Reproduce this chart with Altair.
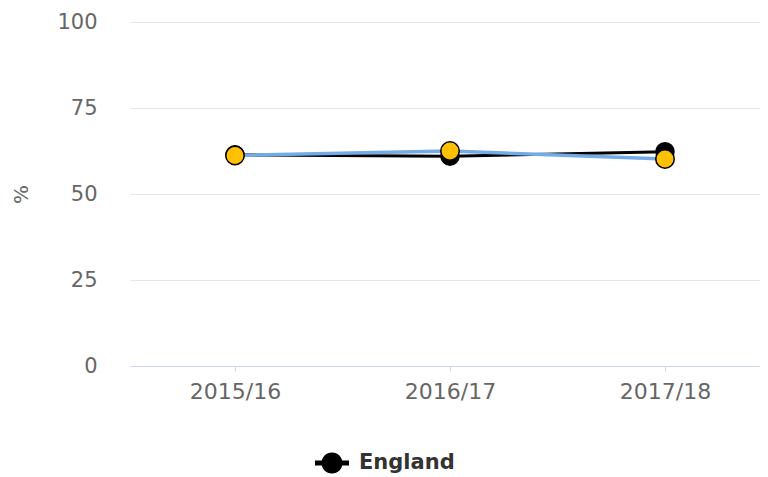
import altair as alt
import pandas as pd

# ---- data ----
years = ["2015/16", "2016/17", "2017/18"]
england = [61.4, 61.0, 62.3]
local_area = [61.2, 62.5, 60.2]
y_ticks = [0, 25, 50, 75, 100]

df_eng = pd.DataFrame({"year": years, "value": england, "series": ["England"] * len(years)})
df_loc = pd.DataFrame({"year": years, "value": local_area, "series": ["Area"] * len(years)})

FONT = "DejaVu Sans"
LEGEND_PATH = (
    "M-1,-0.15 L1,-0.15 L1,0.15 L-1,0.15 Z "
    "M0.62,0 A0.62,0.62 0 1,1 -0.62,0 A0.62,0.62 0 1,1 0.62,0 Z"
)

x_enc = alt.X(
    "year:N",
    sort=years,
    scale=alt.Scale(type="point", padding=0.465, align=0.525),
    axis=alt.Axis(
        title=None,
        labelAngle=0,
        labelFont=FONT,
        labelFontSize=22,
        labelColor="#666666",
        labelPadding=10,
        domainColor="#ccd6eb",
        domainWidth=1,
        tickColor="#ccd6eb",
        tickSize=5,
        grid=False,
    ),
)
y_enc = alt.Y(
    "value:Q",
    scale=alt.Scale(domain=[0, 100], nice=False, zero=True),
    axis=alt.Axis(
        values=y_ticks,
        title="%",
        titleFont=FONT,
        titleFontSize=20,
        titleFontWeight="normal",
        titleColor="#666666",
        titleX=-109,
        titleY=172,
        titleAngle=-90,
        titleBaseline="middle",
        labelFont=FONT,
        labelFontSize=21,
        labelColor="#666666",
        labelPadding=33,
        labelBaseline="middle",
        domain=False,
        ticks=False,
        grid=True,
        gridColor="#e6e6e6",
        gridWidth=1,
    ),
)

eng_line = alt.Chart(df_eng).mark_line(color="black", strokeWidth=3).encode(x=x_enc, y=y_enc)
eng_pts = alt.Chart(df_eng).mark_circle(size=380, opacity=1).encode(
    x=x_enc,
    y=y_enc,
    color=alt.Color(
        "series:N",
        scale=alt.Scale(domain=["England"], range=["black"]),
        legend=alt.Legend(
            title=None,
            orient="none",
            legendX=185,
            legendY=424,
            symbolType=LEGEND_PATH,
            symbolSize=1156,
            symbolStrokeWidth=0,
            symbolOpacity=1,
            labelFont=FONT,
            labelFontSize=21,
            labelFontWeight="bold",
            labelColor="#333333",
            labelOffset=10,
            padding=0,
        ),
    ),
)
loc_line = alt.Chart(df_loc).mark_line(color="#72ace6", strokeWidth=3.5).encode(x=x_enc, y=y_enc)
loc_pts = alt.Chart(df_loc).mark_point(
    shape="circle", filled=True, size=340, fill="#ffc000", stroke="black", strokeWidth=1.5, opacity=1
).encode(x=x_enc, y=y_enc)

chart = (
    alt.layer(eng_line, eng_pts, loc_line, loc_pts)
    .properties(
        width=630,
        height=344,
        background="white",
        autosize=alt.AutoSizeParams(type="none"),
        padding={"left": 122, "top": 14, "right": 0, "bottom": 112},
    )
    .configure_view(strokeWidth=0, stroke="transparent")
)

chart.save("out.html", embed_options={"renderer": "svg", "actions": False})
